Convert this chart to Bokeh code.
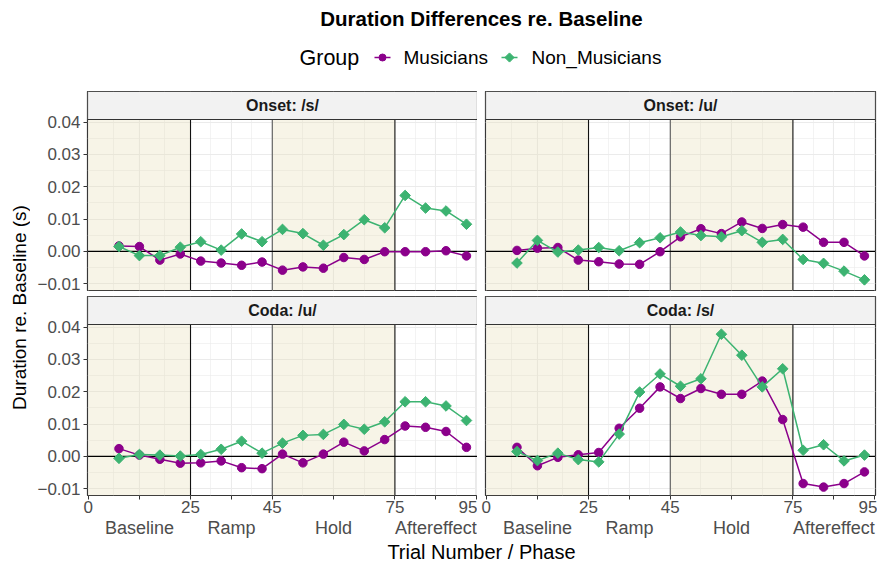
import math
from bokeh.plotting import figure
from bokeh.models import Range1d, FixedTicker, LinearAxis, Span, BoxAnnotation, Grid
from bokeh.layouts import column, row
from bokeh.embed import file_html
from bokeh.resources import INLINE
from bokeh.core.properties import value

# ---------------- data ----------------
trial = [7.5, 12.5, 17.5, 22.5, 27.5, 32.5, 37.5, 42.5, 47.5, 52.5,
         57.5, 62.5, 67.5, 72.5, 77.5, 82.5, 87.5, 92.5]

onset_s_mus = [0.0017, 0.0015, -0.0027, -0.0008, -0.0030, -0.0036, -0.0043, -0.0033, -0.0058,
               -0.0048, -0.0052, -0.0019, -0.0025, -0.0001, -0.0001, -0.0001, 0.0002, -0.0014]
onset_s_non = [0.0015, -0.0013, -0.0013, 0.0013, 0.0030, 0.0004, 0.0054, 0.0030, 0.0068,
               0.0055, 0.0019, 0.0052, 0.0098, 0.0073, 0.0173, 0.0134, 0.0125, 0.0084]
onset_u_mus = [0.0003, 0.0010, 0.0012, -0.0027, -0.0032, -0.0039, -0.0040, -0.0001, 0.0045,
               0.0070, 0.0055, 0.0091, 0.0071, 0.0083, 0.0075, 0.0028, 0.0028, -0.0014]
onset_u_non = [-0.0036, 0.0034, -0.0002, 0.0004, 0.0012, 0.0002, 0.0027, 0.0042, 0.0060,
               0.0049, 0.0045, 0.0064, 0.0028, 0.0037, -0.0025, -0.0037, -0.0061, -0.0088]
coda_u_mus = [0.0024, 0.0004, -0.0009, -0.0021, -0.0020, -0.0014, -0.0035, -0.0038, 0.0007,
              -0.0020, 0.0007, 0.0044, 0.0017, 0.0052, 0.0094, 0.0090, 0.0077, 0.0028]
coda_u_non = [-0.0006, 0.0006, 0.0004, 0.0001, 0.0006, 0.0022, 0.0047, 0.0010, 0.0041,
              0.0065, 0.0068, 0.0099, 0.0084, 0.0107, 0.0169, 0.0169, 0.0156, 0.0111]
coda_s_mus = [0.0028, -0.0029, -0.0003, 0.0005, 0.0012, 0.0087, 0.0149, 0.0215, 0.0179,
              0.0210, 0.0192, 0.0192, 0.0233, 0.0114, -0.0084, -0.0095, -0.0084, -0.0048]
coda_s_non = [0.0015, -0.0013, 0.0010, -0.0010, -0.0017, 0.0069, 0.0199, 0.0255, 0.0217,
              0.0240, 0.0378, 0.0313, 0.0215, 0.0271, 0.0019, 0.0036, -0.0014, 0.0004]

panel_titles = ["Onset: /s/", "Onset: /u/", "Coda: /u/", "Coda: /s/"]
groups = ["Musicians", "Non_Musicians"]

phase_names = ["Baseline", "Ramp", "Hold", "Aftereffect"]
phase_start = [0, 25, 45, 75]
phase_end = [25, 45, 75, 95]
phase_shaded = [True, False, True, False]

x_breaks = [0, 25, 45, 75, 95]
y_breaks = [-0.01, 0.0, 0.01, 0.02, 0.03, 0.04]
y_labels = ["\u22120.01", "0.00", "0.01", "0.02", "0.03", "0.04"]

TITLE = "Duration Differences re. Baseline"
X_TITLE = "Trial Number / Phase"
Y_TITLE = "Duration re. Baseline (s)"
LEGEND_TITLE = "Group"

# ---------------- style / layout ----------------
FONT = "Liberation Sans"
PURPLE = "#8B008B"
GREEN = "#3CB371"
GRID = "#EBEBEB"
BORDER = "#333333"
TICK_TXT = "#4D4D4D"
SHADE = "#E6DAB0"
STRIP_FILL = "#F2F2F2"
VLINE_COLORS = ["#111111", "#5A5A5A", "#111111"]

W = 877
HEAD_H = 91
YT_W = 30
LEFT = 57
GAP = 8
RB = 2
PW = 390
PH = 171
VGAP = 6
STRIP_H = 28
BOTTOM = 47
XT_H = 21
X0, X1 = -0.2, 95.2
Y0, Y1 = -0.0121, 0.0408

phase_mid = [(s + e) / 2 for s, e in zip(phase_start, phase_end)]
x_major = sorted(x_breaks + phase_mid)
x_minor = [(a + b) / 2 for a, b in zip(x_major[:-1], x_major[1:])]
y_minor = [round((a + b) / 2, 4) for a, b in zip(y_breaks[:-1], y_breaks[1:])]


def hide_grids(f):
    for r in list(f.center):
        if isinstance(r, Grid):
            r.visible = False


def base_fig(width, height, xr, yr, lb=0, rb=0, tb=0, bb=0, **kw):
    f = figure(width=width, height=height, x_range=xr, y_range=yr,
               output_backend="svg", toolbar_location=None,
               x_axis_location=None, y_axis_location=None,
               min_border_left=lb, min_border_right=rb,
               min_border_top=tb, min_border_bottom=bb, **kw)
    hide_grids(f)
    return f


def panel(title, mus, non, left, bottom, rb):
    lb = LEFT if left else GAP
    bb = BOTTOM if bottom else VGAP
    # frame holds the strip on top of the data area
    y_top = Y1 + STRIP_H * (Y1 - Y0) / PH
    p = base_fig(lb + PW + rb, STRIP_H + PH + bb, Range1d(X0, X1), Range1d(Y0, y_top),
                 lb=lb, rb=rb, bb=bb,
                 background_fill_color="white", border_fill_color="white",
                 outline_line_color=BORDER, outline_line_width=1.2)
    p.add_layout(Grid(dimension=0, ticker=FixedTicker(ticks=x_major, minor_ticks=x_minor),
                      grid_line_color=GRID, grid_line_width=1.1,
                      minor_grid_line_color=GRID, minor_grid_line_width=0.6))
    p.add_layout(Grid(dimension=1, ticker=FixedTicker(ticks=y_breaks, minor_ticks=y_minor),
                      grid_line_color=GRID, grid_line_width=1.1,
                      minor_grid_line_color=GRID, minor_grid_line_width=0.6))
    for s, e, sh in zip(phase_start, phase_end, phase_shaded):
        if sh:
            p.add_layout(BoxAnnotation(left=s, right=e, fill_color=SHADE, fill_alpha=0.3,
                                       line_color=None, level="underlay"))
    for xv, c in zip(phase_start[1:], VLINE_COLORS):
        p.add_layout(Span(location=xv, dimension="height", line_color=c, line_width=1.1,
                          level="underlay"))
    p.add_layout(Span(location=0, dimension="width", line_color="black", line_width=1.1,
                      level="underlay"))

    p.line(trial, mus, line_color=PURPLE, line_width=1.5)
    p.scatter(trial, mus, marker="circle", size=8.5, fill_color=PURPLE, line_color=PURPLE)
    p.line(trial, non, line_color=GREEN, line_width=1.5)
    p.scatter(trial, non, marker="square", angle=math.pi / 4, size=7.5,
              fill_color=GREEN, line_color=GREEN)

    # facet strip (covers grid / phase lines in its band)
    p.quad(left=[X0], right=[X1], bottom=[Y1], top=[y_top], fill_color=STRIP_FILL,
           line_color=BORDER, line_width=1.2)
    p.text(x=[(X0 + X1) / 2], y=[(Y1 + y_top) / 2], text=[title], text_align="center",
           text_baseline="middle", text_font=value(FONT), text_font_style="bold",
           text_font_size="16px", text_color="#1A1A1A")

    if left:
        ax = LinearAxis(ticker=FixedTicker(ticks=y_breaks),
                        major_label_overrides=dict(zip(y_breaks, y_labels)),
                        axis_line_color=None, major_tick_line_color=BORDER,
                        major_tick_out=4, major_tick_in=0, minor_tick_line_color=None,
                        major_label_text_font=FONT, major_label_text_font_size="17px",
                        major_label_text_color=TICK_TXT, major_label_standoff=3)
        p.add_layout(ax, "left")
    if bottom:
        overrides = {}
        for t in x_major:
            overrides[t] = str(int(t)) if t in x_breaks else ""
        ax1 = LinearAxis(ticker=FixedTicker(ticks=x_major), major_label_overrides=overrides,
                         axis_line_color=None, major_tick_line_color=BORDER,
                         major_tick_out=4, major_tick_in=0, minor_tick_line_color=None,
                         major_label_text_font=FONT, major_label_text_font_size="17px",
                         major_label_text_color=TICK_TXT, major_label_standoff=1)
        p.add_layout(ax1, "below")
        ax2 = LinearAxis(ticker=FixedTicker(ticks=phase_mid),
                         major_label_overrides=dict(zip(phase_mid, phase_names)),
                         axis_line_color=None, major_tick_line_color=None,
                         major_tick_out=0, major_tick_in=0, minor_tick_line_color=None,
                         major_label_text_font=FONT, major_label_text_font_size="18px",
                         major_label_text_color=TICK_TXT, major_label_standoff=2)
        p.add_layout(ax2, "below")
    return p


# ---------------- header (title + legend) ----------------
panel_center = YT_W + LEFT + (2 * PW + GAP) / 2
head = base_fig(W, HEAD_H, Range1d(0, W), Range1d(0, HEAD_H), outline_line_color=None)
head.text(x=[panel_center], y=[HEAD_H - 18], text=[TITLE], text_align="center",
          text_baseline="middle", text_font=value(FONT), text_font_style="bold",
          text_font_size="20.5px", text_color="black")
ly = HEAD_H - 57
head.text(x=[299], y=[ly], text=[LEGEND_TITLE], text_align="left", text_baseline="middle",
          text_font=value(FONT), text_font_size="21.5px", text_color="black")
leg_marker_x = [382, 509]
leg_text_x = [403, 531]
leg_colors = [PURPLE, GREEN]
for g, mx, tx, c in zip(groups, leg_marker_x, leg_text_x, leg_colors):
    head.segment(x0=[mx - 8], y0=[ly], x1=[mx + 8], y1=[ly], line_color=c, line_width=1.5)
    if g == groups[0]:
        head.scatter([mx], [ly], marker="circle", size=7, fill_color=c, line_color=c)
    else:
        head.scatter([mx], [ly], marker="square", angle=math.pi / 4, size=6.5,
                     fill_color=c, line_color=c)
    head.text(x=[tx], y=[ly], text=[g], text_align="left", text_baseline="middle",
              text_font=value(FONT), text_font_size="19px", text_color="black")

# ---------------- panels ----------------
p_tl = panel(panel_titles[0], onset_s_mus, onset_s_non, True, False, 0)
p_bl = panel(panel_titles[2], coda_u_mus, coda_u_non, True, True, 0)
p_tr = panel(panel_titles[1], onset_u_mus, onset_u_non, False, False, RB)
p_br = panel(panel_titles[3], coda_s_mus, coda_s_non, False, True, RB)

col_h = STRIP_H + PH + VGAP + STRIP_H + PH + BOTTOM
ytf = base_fig(YT_W, col_h, Range1d(0, YT_W), Range1d(0, col_h), outline_line_color=None)
panels_mid_from_top = (STRIP_H + (STRIP_H + PH + VGAP + STRIP_H + PH)) / 2
ytf.text(x=[19], y=[col_h - panels_mid_from_top], text=[Y_TITLE], angle=math.pi / 2,
         text_align="center", text_baseline="middle", text_font=value(FONT),
         text_font_size="19px", text_color="black")

xtf = base_fig(W, XT_H, Range1d(0, W), Range1d(0, XT_H), outline_line_color=None)
xtf.text(x=[panel_center], y=[11.5], text=[X_TITLE], text_align="center",
         text_baseline="middle", text_font=value(FONT), text_font_size="20px",
         text_color="black")

left_col = column(p_tl, p_bl)
right_col = column(p_tr, p_br)
layout = column(head, row(ytf, left_col, right_col), xtf)

open("out.html", "w").write(file_html(layout, INLINE))
